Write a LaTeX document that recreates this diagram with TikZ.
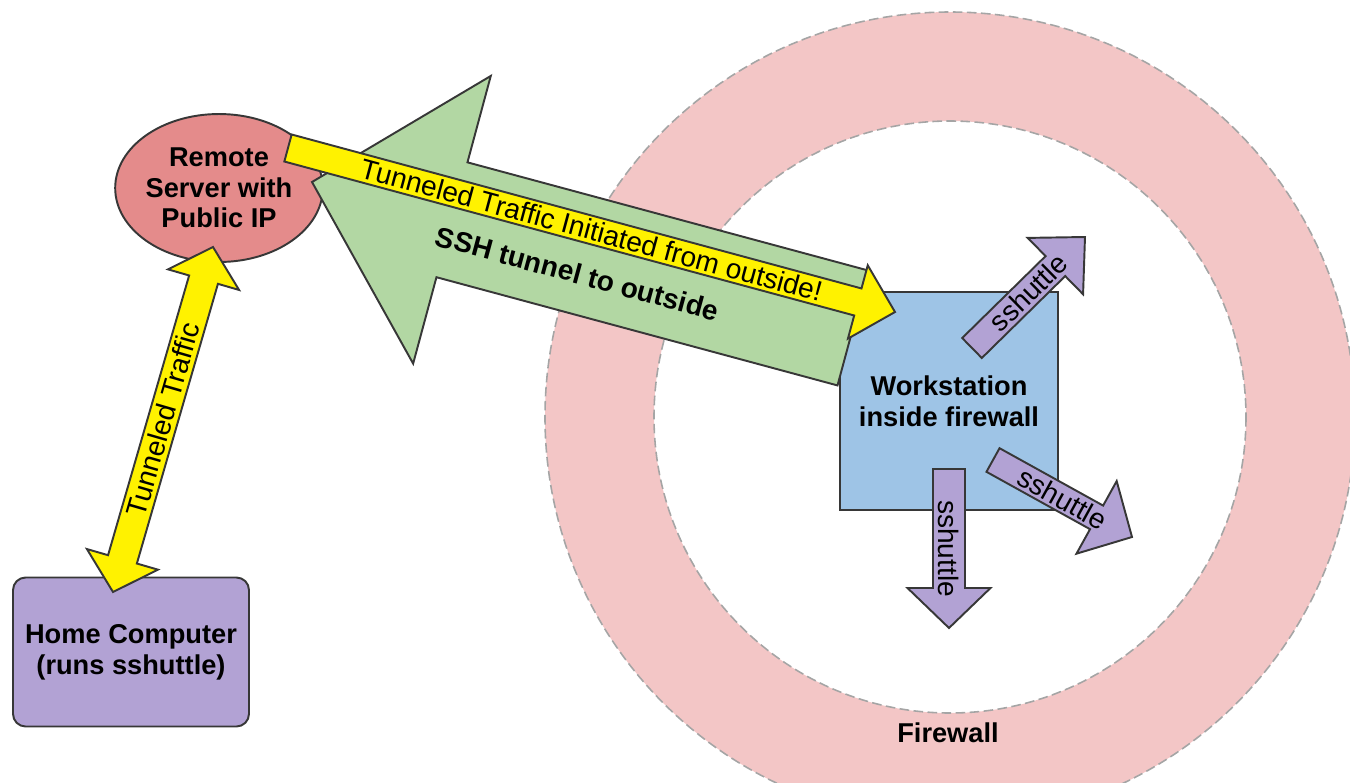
\documentclass[tikz,border=0pt]{standalone}
\usepackage{fontspec}
\setmainfont{Liberation Sans}
\usepackage{tikz}
\usetikzlibrary{shapes.geometric, calc}

\definecolor{ringpink}{RGB}{243,198,198}
\definecolor{ringline}{RGB}{165,165,165}
\definecolor{srvred}{RGB}{228,139,139}
\definecolor{shuttlepurple}{RGB}{178,162,212}
\definecolor{wsblue}{RGB}{158,196,230}
\definecolor{tunnelgreen}{RGB}{178,215,163}
\definecolor{outline}{RGB}{55,55,55}

% #1 style, #2 tail, #3 tip, #4 half shaft, #5 half head, #6 head length
\newcommand{\fatarrow}[6]{%
  \coordinate (fb) at ($(#3)!#6!(#2)$);
  \draw[#1] ($(#2)!#4!90:(#3)$) -- ($(fb)!#4!-90:(#2)$) -- ($(fb)!#5!-90:(#2)$)
    -- (#3) -- ($(fb)!#5!90:(#2)$) -- ($(fb)!#4!90:(#2)$)
    -- ($(#2)!#4!-90:(#3)$) -- cycle;
}
\newcommand{\fatdblarrow}[6]{%
  \coordinate (fa) at ($(#2)!#6!(#3)$);
  \coordinate (fb) at ($(#3)!#6!(#2)$);
  \draw[#1] (#2) -- ($(fa)!#5!90:(#3)$) -- ($(fa)!#4!90:(#3)$)
    -- ($(fb)!#4!-90:(#2)$) -- ($(fb)!#5!-90:(#2)$) -- (#3)
    -- ($(fb)!#5!90:(#2)$) -- ($(fb)!#4!90:(#2)$)
    -- ($(fa)!#4!-90:(#3)$) -- ($(fa)!#5!-90:(#3)$) -- cycle;
}

\begin{document}
\begin{tikzpicture}[x=0.02cm, y=-0.02cm,
    lbl/.style={font=\fontsize{15.5}{17.5}\selectfont\bfseries, align=center},
    arrtxt/.style={font=\fontsize{16}{18}\selectfont, inner sep=0pt},
    outl/.style={draw=outline, line width=1.1pt, line join=miter},
    ringedge/.style={draw=ringline, line width=0.9pt, dash pattern=on 5.5pt off 2.5pt},
    srvnode/.style={lbl, outl, ellipse, fill=srvred, minimum width=3.96cm, minimum height=2.96cm, inner sep=0pt},
    homenode/.style={lbl, outl, rounded corners=0.25cm, fill=shuttlepurple, minimum width=4.72cm, minimum height=2.98cm},
    wsnode/.style={lbl, outl, fill=wsblue, minimum width=4.36cm, minimum height=4.36cm},
    greenarr/.style={outl, fill=tunnelgreen},
    yellowarr/.style={outl, fill=yellow},
    shuttlearr/.style={outl, fill=shuttlepurple}]
  \useasboundingbox (0,0) rectangle (1350,782);
  \clip (0,0) rectangle (1350,782);

  \fill[ringpink, even odd rule] (950,417) circle (405) (950,417) circle (296);
  \draw[ringedge] (950,417) circle (405);
  \draw[ringedge] (950,417) circle (296);
  \node[lbl] (fw) at (948,733) {Firewall};

  \node[srvnode] (srv) at (219,188) {Remote\\Server with\\Public IP};
  \node[homenode] (home) at (131,652) {Home Computer\\(runs sshuttle)};
  \node[wsnode] (ws) at (949,401) {Workstation\\inside firewall};

  \coordinate (gtail) at (853,328);
  \coordinate (gtip) at (312,182);
  \fatarrow{greenarr}{gtail}{gtip}{1.19cm}{2.98cm}{2.9cm}
  \path (gtail) -- (gtip) node[arrtxt, midway, sloped, yshift=-0.38cm] {\bfseries SSH tunnel to outside};

  \coordinate (ytail) at (288,148);
  \coordinate (ytip) at (895,312);
  \fatarrow{yellowarr}{ytail}{ytip}{0.28cm}{0.76cm}{0.77cm}
  \path (ytail) -- (ytip) node[arrtxt, midway, sloped] {Tunneled Traffic Initiated from outside!};

  \coordinate (vbot) at (113,592);
  \coordinate (vtop) at (213,247);
  \fatdblarrow{yellowarr}{vbot}{vtop}{0.3cm}{0.74cm}{0.68cm}
  \path (vbot) -- (vtop) node[arrtxt, midway, sloped] {Tunneled Traffic};

  \coordinate (s1a) at (972,348);
  \coordinate (s1b) at (1085,237);
  \fatarrow{shuttlearr}{s1a}{s1b}{0.28cm}{0.79cm}{0.83cm}
  \path (s1a) -- (s1b) node[arrtxt, midway, sloped] {sshuttle};

  \coordinate (s2a) at (993,460);
  \coordinate (s2b) at (1132,537);
  \fatarrow{shuttlearr}{s2a}{s2b}{0.27cm}{0.83cm}{0.81cm}
  \path (s2a) -- (s2b) node[arrtxt, midway, sloped] {sshuttle};

  \coordinate (s3a) at (949,469);
  \coordinate (s3b) at (949,628);
  \fatarrow{shuttlearr}{s3a}{s3b}{0.32cm}{0.83cm}{0.8cm}
  \path (s3a) -- (s3b) node[arrtxt, midway, rotate=-90] {sshuttle};
\end{tikzpicture}
\end{document}
